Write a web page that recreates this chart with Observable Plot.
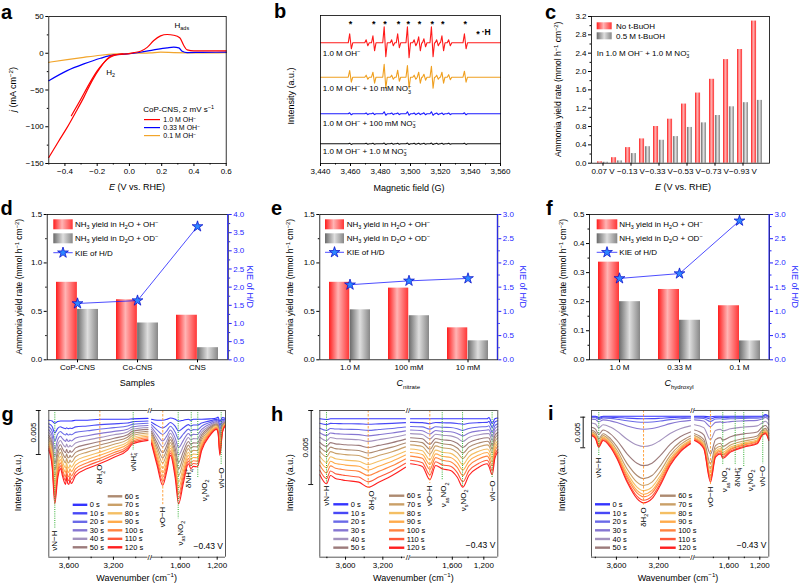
<!DOCTYPE html>
<html><head><meta charset="utf-8">
<script src="https://cdn.jsdelivr.net/npm/d3@7"></script>
<script src="https://cdn.jsdelivr.net/npm/@observablehq/plot@0.6"></script>
<style>
body{margin:0;background:#fff;}
#fig{position:relative;width:799px;height:584px;background:#fff;overflow:hidden;}
</style></head><body>
<div id="fig">
<svg width="0" height="0" style="position:absolute;left:0;top:0">
<defs>
<linearGradient id="gRed" x1="0" x2="1" y1="0" y2="0">
<stop offset="0" stop-color="#ff1c1c"/><stop offset="0.45" stop-color="#ffb4b4"/><stop offset="1" stop-color="#ff3636"/>
</linearGradient>
<linearGradient id="gGray" x1="0" x2="1" y1="0" y2="0">
<stop offset="0" stop-color="#6a6a6a"/><stop offset="0.5" stop-color="#dedede"/><stop offset="1" stop-color="#878787"/>
</linearGradient>
</defs></svg>
</div>
<script>
// ================= DATA =================
// (a) LSV curves
const aRedE = [-0.5,-0.44,-0.386,-0.33,-0.283,-0.231,-0.179,-0.138,-0.097,-0.05,-0.014,0.027,0.069,0.11,0.151,0.193,0.234,0.275,0.312,0.337,0.358,0.4,0.5,0.6];
const aRedJ = [-141.8,-120,-100.9,-79,-60,-37.3,-19,-7.7,-2.3,-1.3,-0.9,0.9,2.7,8,17.3,23.6,25.5,24.5,21,10.5,4.5,3.2,3.2,3.2];
const aRed2E = [-0.36,-0.3,-0.25,-0.2,-0.16,-0.12,-0.08,-0.04];
const aRed2J = [-85,-62,-42,-24,-13,-5.5,-2,-0.8];
const aBlueE = [-0.5,-0.386,-0.283,-0.179,-0.097,-0.014,0.069,0.151,0.234,0.275,0.306,0.327,0.358,0.45,0.6];
const aBlueJ = [-37.3,-23.6,-14.5,-6.8,-2.3,-0.9,1.4,4.5,7.3,8.2,7.3,2.7,0.9,1.2,1.4];
const aOrgE = [-0.5,-0.386,-0.283,-0.179,-0.076,0.027,0.13,0.193,0.275,0.44,0.6];
const aOrgJ = [-12.3,-8.6,-5.5,-2.7,-0.9,0,0.5,1.4,0.9,0.5,0.9];
const aXTicks = [-0.4,-0.2,0,0.2,0.4,0.6];
const aXMinor = [-0.5,-0.3,-0.1,0.1,0.3,0.5];
const aYTicks = [-150,-100,-50,0,50];
const aYMinor = [-125,-75,-25,25];
const aNotes = [{E:0.325, j:37.8, t:"H_{ads}"},{E:-0.117, j:-26.2, t:"H_{2}"}];
const aLegend = ["1.0 M OH^{−}","0.33 M OH^{−}","0.1 M OH^{−}"];

// (b) EPR spectra
const bPeaks = [3460,3475.5,3483,3492,3498.5,3506,3514.5,3521.5,3536.5];
const bRedUp = [9,7,16,9,16,6,16,7,9];
const bRedDown = [6,8,14,5,15,8,14,8,6];
const bOrgUp = [6.7,5,13,7,11.7,5,11,5,6];
const bOrgDown = [5,6,11,4,11,6,11,6,5];
const bBlueUp = [1,0.8,2,0.8,2,0.8,2,0.8,1];
const bBlueDown = [1,0.8,1.5,0.8,1.5,0.8,1.5,0.8,1];
const bBlackUp = [0.6,0.5,0.7,0.5,0.7,0.5,0.7,0.5,0.6];
const bMinor = [3471,3488,3503,3509.5,3518,3526];
const bRedMinor = [3,3,3,4,3,3];
const bOrgMinor = [2,2,2,3,2,2.5];
const bBlueMinor = [0.8,0.8,0.8,1,0.8,0.8];
const bBlackMinor = [0.5,0.5,0.5,0.5,0.5,0.5];
const bBase = [120.7, 86.3, 49.7, 19.7];
const bColors = ["#ff1a1a","#f0a020","#1a1aff","#111111"];
const bLabels = ["1.0 M OH^{−}","1.0 M OH^{−} + 10 mM NO@{3|−}","1.0 M OH^{−} + 100 mM NO@{3|−}","1.0 M OH^{−} + 1.0 M NO@{3|−}"];
const bLabelY = [110.3, 74.7, 40.3, 12];
const bTicks = [3440,3460,3480,3500,3520,3540,3560];
const bMinorTicks = [3450,3470,3490,3510,3530,3550];

// (c) ammonia yield vs potential
const cCats = ["0.07 V","−0.03 V","−0.13 V","−0.23 V","−0.33 V","−0.43 V","−0.53 V","−0.63 V","−0.73 V","−0.83 V","−0.93 V","−1.03 V"];
const cRed = [0.03,0.12,0.34,0.53,0.80,0.96,1.29,1.53,1.83,2.26,2.48,3.10];
const cGray = [0.02,0.05,0.21,0.36,0.50,0.58,0.78,0.88,1.04,1.23,1.32,1.37];
const cYTicks = [0,0.4,0.8,1.2,1.6,2.0,2.4,2.8,3.2];
const cYMinor = [0.2,0.6,1.0,1.4,1.8,2.2,2.6,3.0];

// (d) samples
const dCats = ["CoP-CNS","Co-CNS","CNS"];
const dRed = [0.80,0.62,0.46];
const dGray = [0.52,0.38,0.125];
const dKIE = [1.55,1.63,3.67];
// (e) nitrate concentration
const eCats = ["1.0 M","100 mM","10 mM"];
const eRed = [0.80,0.74,0.33];
const eGray = [0.516,0.455,0.196];
const eKIE = [1.55,1.63,1.68];
// (f) hydroxyl concentration
const fCats = ["1.0 M","0.33 M","0.1 M"];
const fRed = [0.336,0.242,0.186];
const fGray = [0.200,0.136,0.065];
const fKIE = [1.68,1.78,2.87];

// (g,h,i) in-situ IR: [wavenumber, 0 s value, 120 s value] (units of 0.001 a.u.)
const irTimes = ["0 s","10 s","20 s","30 s","40 s","50 s","60 s","70 s","80 s","90 s","100 s","110 s","120 s"];
const irColors = ["#3434ff","#4848f6","#6a6ae8","#8676d2","#a493bf","#9c7b7b","#ad8a70","#caa068","#f4bf64","#ffab4c","#ff8440","#ff5a3a","#ff1f1f"];
const gLeft = [[3780,-1.1,-4.5],[3750,-1.2,-6.4],[3726,-1.45,-10.6],[3700,-1.25,-7.7],[3675,-1.2,-6.6],[3660,-1.2,-7.3],[3645,-1.2,-8.0],[3630,-1.2,-8.4],[3620,-1.2,-7.6],[3610,-1.2,-8.3],[3600,-1.2,-8.4],[3590,-1.2,-7.9],[3578,-1.2,-8.3],[3540,-1.1,-7.4],[3434,-1.1,-6.6],[3314,-1.0,-6.0],[3194,-1.0,-5.3],[3074,-1.0,-4.5],[3029,-0.95,-3.8],[2890,-0.9,-3.4]];
const gRight = [[1911,-1.0,-3.75],[1850,-1.1,-6.25],[1790,-1.1,-8.5],[1743,-1.0,-6.8],[1707,-0.85,-5.1],[1654,-1.0,-7.7],[1618,-1.2,-10.6],[1565,-1.1,-8.2],[1511,-1.0,-6.05],[1486,-1.1,-6.6],[1458,-1.0,-6.35],[1415,-1.0,-6.4],[1368,-1.0,-4.55],[1279,-0.95,-2.85],[1207,-0.85,-2.15],[1190,-0.75,-2.6],[1171,-1.25,-5.1],[1143,-0.8,-2.5],[1110,-0.9,-1.7]];
const gFrac = [0,0.12,0.22,0.32,0.41,0.5,0.58,0.66,0.74,0.81,0.88,0.94,1];
const gBands = [
 {w:3726,lw:3726,end:-13.4,t:"νN−H",k:"g"},
 {w:3322,lw:3322,end:-5.9,t:"δH_{2}O",k:"o"},
 {w:3023,lw:3023,end:-4.55,t:"νNH@{4|+}",k:"g"},
 {w:1789,lw:1789,end:-10.7,t:"νO−H",k:"o"},
 {w:1622,lw:1597,end:-12.3,t:"ν_{as}NO_{2}",k:"g"},
 {w:1481,lw:1507,end:-6.4,t:"δNH@{4|+}",k:"g"},
 {w:1410,lw:1337,end:-7.6,t:"ν_{s}NO_{2}",k:"g"},
 {w:1157,lw:1157,end:-6.25,t:"νN−O",k:"g"}];
const hLeft = [[3876,-0.56,-4.34],[3804,-0.61,-4.95],[3761,-0.56,-4.39],[3708,-0.56,-4.59],[3654,-0.56,-4.66],[3600,-0.56,-4.73],[3458,-0.56,-4.84],[3357,-0.56,-5.18],[3244,-0.56,-4.84],[3100,-0.56,-4.39],[2957,-0.56,-3.83]];
const hRight = [[2130,-0.56,-3.6],[1980,-0.56,-3.78],[1884,-0.56,-4.68],[1811,-0.56,-3.72],[1727,-0.56,-3.94],[1622,-0.56,-4.05],[1537,-0.56,-4.51],[1466,-0.56,-5.18],[1390,-0.56,-4.39],[1263,-0.56,-3.83],[1157,-0.56,-3.6],[1135,-0.47,-3.78],[1094,-0.88,-4.34],[1060,-0.56,-3.24],[1023,-0.51,-2.82]];
const hFrac = [0,0.08,0.17,0.25,0.33,0.42,0.5,0.58,0.67,0.75,0.83,0.92,1];
const hBands = [
 {w:3804,lw:3804,end:-4.93,t:"νN−H",k:"g"},
 {w:3357,lw:3322,end:-5.27,t:"δH_{2}O",k:"o"},
 {w:1885,lw:1885,end:-4.93,t:"νO−H",k:"o"},
 {w:1728,lw:1707,end:-4.73,t:"ν_{as}NO_{2}",k:"g"},
 {w:1470,lw:1458,end:-5.2,t:"ν_{s}NO_{2}",k:"g"},
 {w:1095,lw:1095,end:-4.6,t:"νN−O",k:"g"}];
const iLeft = [[3836,-0.93,-4.08],[3798,-0.93,-4.62],[3767,-1.14,-6.0],[3726,-0.93,-4.9],[3657,-0.93,-6.0],[3594,-0.93,-7.9],[3499,-0.93,-11.7],[3405,-0.93,-14.4],[3343,-0.93,-15.1],[3263,-0.93,-14.4],[3185,-0.93,-12.25],[3091,-0.93,-9.0],[2996,-0.93,-6.8],[2898,-0.93,-5.44]];
const iRight = [[2043,-0.93,-4.9],[1923,-0.93,-6.26],[1837,-1.06,-11.7],[1772,-0.93,-7.63],[1708,-0.93,-7.08],[1678,-0.93,-7.8],[1578,-0.93,-6.8],[1407,-0.93,-6.0],[1234,-0.93,-5.44],[1170,-0.93,-4.08],[1127,-0.65,-3.8],[1084,-0.93,-4.9]];
const iFrac = [0,0.03,0.07,0.15,0.35,0.57,0.72,0.8,0.86,0.9,0.93,0.97,1];
const iBands = [
 {w:3767,lw:3767,end:-7.35,t:"νN−H",k:"g"},
 {w:3343,lw:3343,end:-15.5,t:"δH_{2}O",k:"o"},
 {w:1837,lw:1837,end:-12.1,t:"νO−H",k:"o"},
 {w:1678,lw:1652,end:-9.0,t:"ν_{as}NO_{2}",k:"g"},
 {w:1518,lw:1492,end:-9.0,t:"δNH@{4|+}",k:"g"},
 {w:1407,lw:1321,end:-9.3,t:"ν_{s}NO_{2}",k:"g"},
 {w:1162,lw:1162,end:-8.7,t:"νN−O",k:"g"}];
const irTicks = [3600,3200,1600,1200];
const irMinor = [3800,3400,3000,1800,1400,1000];

// ================= HELPERS =================
const NS = "http://www.w3.org/2000/svg";
const FONT = '"Liberation Sans", Arial, Helvetica, sans-serif';
const STYLE = `font-family: ${FONT}; font-size: 8px; overflow: visible; background: none; max-width: none;`;
const BLUE = "#1f1fff";
const STARFILL = "#2e86ff", STARSTROKE = "#0000c8";
const fig = document.getElementById("fig");
const comma = d3.format(",");
const f1 = d3.format(".1f");

function mount(svg, left, top) {
  svg.querySelectorAll("text").forEach(t => { if (t.textContent.includes("\u26a0")) t.remove(); });
  svg.style.position = "absolute";
  svg.style.left = left + "px";
  svg.style.top = top + "px";
  svg.style.background = "none";
  svg.style.overflow = "visible";
  fig.appendChild(svg);
  return svg;
}
function richify(root) {
  const re = /([_^~!])\{([^}]*)\}|@\{([^|}]*)\|([^}]*)\}|([^_^~!@]+)|([_^~!@])/g;
  root.querySelectorAll("text").forEach(t => {
    if (t.children.length) return;
    const s = t.textContent;
    if (!/[_^~!@]\{/.test(s)) return;
    const fs = parseFloat(getComputedStyle(t).fontSize) || 8;
    t.textContent = "";
    let cur = 0;
    const add = (txt, shift, o = {}) => {
      const ts = document.createElementNS(NS, "tspan");
      ts.textContent = txt;
      const dy = shift - cur;
      if (Math.abs(dy) > 1e-6) ts.setAttribute("dy", dy.toFixed(2));
      cur = shift;
      if (o.small) ts.setAttribute("font-size", (fs * 0.68).toFixed(2));
      if (o.italic) ts.setAttribute("font-style", "italic");
      if (o.bold) ts.setAttribute("font-weight", "bold");
      if (o.dx) ts.setAttribute("dx", o.dx.toFixed(2));
      t.appendChild(ts);
    };
    for (const m of s.matchAll(re)) {
      if (m[1] === "_") add(m[2], fs * 0.28, {small: true});
      else if (m[1] === "^") add(m[2], -fs * 0.38, {small: true});
      else if (m[1] === "~") add(m[2], 0, {italic: true});
      else if (m[1] === "!") add(m[2], 0, {bold: true});
      else if (m[3] !== undefined) {
        add(m[3], fs * 0.28, {small: true});
        add(m[4], -fs * 0.38, {small: true, dx: -fs * 0.68 * 0.56 * m[3].length});
      } else add(m[5] || m[6], 0);
    }
  });
}
function txt(g, x, y, s, o = {}) {
  return g.append("text").attr("x", x).attr("y", y).attr("dy", "0.35em")
    .attr("font-size", o.fs || 8).attr("text-anchor", o.anchor || "start")
    .attr("fill", o.fill || "black").attr("font-weight", o.fw || null)
    .attr("transform", o.rot ? `rotate(${o.rot},${x},${y})` : null).text(s);
}
const blank = () => "";
function bandInset(inner, n, pi, po) {
  const step = inner / (n - pi + 2 * po);
  return step * (1 - pi) / 2;
}

// ================= (a) =================
{
  const rows = [];
  [["o", aOrgE, aOrgJ, "#f2a52b"], ["b", aBlueE, aBlueJ, "#0000ff"], ["r2", aRed2E, aRed2J, "#ff0000"], ["r", aRedE, aRedJ, "#ff0000"]]
    .forEach(([k, E, J, c]) => E.forEach((e, i) => rows.push({k, E: e, j: J[i], c})));
  const svg = Plot.plot({
    width: 266, height: 192, marginLeft: 48.3, marginRight: 40.3, marginTop: 16, marginBottom: 29,
    style: STYLE,
    x: {domain: [-0.5, 0.6], label: null},
    y: {domain: [-150, 50], label: null},
    color: {type: "identity"},
    marks: [
      Plot.line(rows, {x: "E", y: "j", z: "k", stroke: "c", strokeWidth: 1.2, curve: "monotone-x"}),
      Plot.frame({stroke: "black", strokeWidth: 0.8}),
      Plot.axisX({ticks: aXTicks, tickFormat: f1, tickSize: 3, tickPadding: 2, label: null}),
      Plot.axisX({ticks: aXMinor, tickSize: 1.5, tickFormat: blank, label: null}),
      Plot.axisY({ticks: aYTicks, tickSize: 3, tickPadding: 2, label: null}),
      Plot.axisY({ticks: aYMinor, tickSize: 1.5, tickFormat: blank, label: null}),
      Plot.text(aNotes, {x: "E", y: "j", text: "t", fontSize: 8})
    ]
  });
  mount(svg, 0, 0);
  const g = d3.select(svg).append("g");
  txt(g, 13, 89.5, "~{j} (mA cm^{−2})", {fs: 9, anchor: "middle", rot: -90});
  txt(g, 137, 187, "~{E} (V vs. RHE)", {fs: 9, anchor: "middle"});
  txt(g, 143.3, 108.8, "CoP-CNS, 2 mV s^{−1}");
  ["#ff0000", "#0000ff", "#f2a52b"].forEach((c, i) => {
    const y = 119.6 + i * 8;
    g.append("line").attr("x1", 144).attr("x2", 160).attr("y1", y).attr("y2", y).attr("stroke", c).attr("stroke-width", 1.2);
    txt(g, 163.3, y + 0.3, aLegend[i], {fs: 7});
  });
  richify(svg);
}

// ================= (b) =================
{
  const rows = [];
  const series = [[bRedUp, bRedDown, bRedMinor], [bOrgUp, bOrgDown, bOrgMinor], [bBlueUp, bBlueDown, bBlueMinor], [bBlackUp, bBlackUp, bBlackMinor]];
  series.forEach(([ups, downs, mins], si) => {
    const base = bBase[si];
    const pk = bPeaks.map((G, i) => ({G, u: ups[i], d: downs[i]}))
      .concat(bMinor.map((G, i) => ({G, u: mins[i], d: mins[i]})))
      .sort((a, b) => a.G - b.G);
    rows.push({k: si, G: 3440, v: base, c: bColors[si]});
    pk.forEach(p => {
      rows.push({k: si, G: p.G - 1.5, v: base, c: bColors[si]});
      rows.push({k: si, G: p.G - 0.55, v: base + p.u, c: bColors[si]});
      rows.push({k: si, G: p.G + 0.55, v: base - p.d, c: bColors[si]});
      rows.push({k: si, G: p.G + 1.5, v: base, c: bColors[si]});
    });
    rows.push({k: si, G: 3560, v: base, c: bColors[si]});
  });
  const svg = Plot.plot({
    width: 266, height: 192, marginLeft: 54, marginRight: 32, marginTop: 15, marginBottom: 29,
    style: STYLE,
    x: {domain: [3440, 3560], label: null},
    y: {domain: [0, 148], axis: null},
    color: {type: "identity"},
    marks: [
      Plot.line(rows, {x: "G", y: "v", z: "k", stroke: "c", strokeWidth: 1.1}),
      Plot.frame({stroke: "black", strokeWidth: 0.8}),
      Plot.axisX({ticks: bTicks, tickFormat: comma, tickSize: 3, tickPadding: 2, label: null}),
      Plot.axisX({ticks: bMinorTicks, tickSize: 1.5, tickFormat: blank, label: null}),
      Plot.text(bPeaks, {x: d => d, y: 141.3, text: () => "*", fontSize: 9, fontWeight: "bold", dy: 2}),
      Plot.text(bLabels, {x: 3441.5, y: (d, i) => bLabelY[i], text: d => d, textAnchor: "start", fontSize: 8}),
      Plot.text(["*"], {x: 3545, y: 131, fontSize: 9, fontWeight: "bold", dy: 2}),
      Plot.text(["·H"], {x: 3547.5, y: 131, textAnchor: "start", fontSize: 8.5, fontWeight: "bold"})
    ]
  });
  mount(svg, 266, 0);
  const g = d3.select(svg).append("g");
  txt(g, 25, 96, "Intensity (a.u.)", {fs: 9, anchor: "middle", rot: -90});
  txt(g, 143, 188, "Magnetic field (G)", {fs: 9, anchor: "middle"});
  richify(svg);
}

// ================= bar panels (c,d,e,f) =================
function barPanel(o) {
  const hasK = !!o.kie;
  const rows = o.cats.map((cat, i) => ({cat, red: o.red[i], gray: o.gray[i], kie: hasK ? o.kie[i] : 0}));
  const k = hasK ? o.yMax / o.kMax : 1;
  const inner = o.w - o.ml - o.mr;
  const inset = bandInset(inner, o.cats.length, o.pi, o.po);
  const marks = [
    Plot.barY(rows, {x: "cat", y: "red", fill: "url(#gRed)", insetRight: inset}),
    Plot.barY(rows, {x: "cat", y: "gray", fill: "url(#gGray)", insetLeft: inset}),
    Plot.frame({stroke: "black", strokeWidth: 0.8}),
    Plot.axisX({ticks: o.xTicks || o.cats, tickSize: 3, tickPadding: 2, label: null}),
    Plot.axisY({ticks: o.yTicks, tickFormat: f1, tickSize: 3, tickPadding: 2, label: null}),
    Plot.axisY({ticks: o.yMinor, tickSize: 1.5, tickFormat: blank, label: null})
  ];
  if (hasK) marks.push(
    Plot.line(rows, {x: "cat", y: d => d.kie * k, stroke: BLUE, strokeWidth: 0.8}),
    Plot.dot(rows, {x: "cat", y: d => d.kie * k, symbol: "star", r: 3.4, fill: STARFILL, stroke: STARSTROKE, strokeWidth: 0.7}),
    Plot.axisY({anchor: "right", ticks: o.kTicks.map(v => v * k), tickFormat: d => f1(d / k), tickSize: 3, tickPadding: 2, stroke: BLUE, fill: BLUE, label: null}),
    Plot.axisY({anchor: "right", ticks: o.kMinor.map(v => v * k), tickSize: 1.5, tickFormat: blank, stroke: BLUE, label: null})
  );
  const svg = Plot.plot({
    width: o.w, height: o.h, marginLeft: o.ml, marginRight: o.mr, marginTop: o.mt, marginBottom: o.mb,
    style: STYLE,
    x: {type: "band", domain: o.cats, paddingInner: o.pi, paddingOuter: o.po, label: null},
    y: {domain: [0, o.yMax], label: null},
    marks
  });
  mount(svg, o.left, o.top);
  const g = d3.select(svg).append("g");
  const fb = o.h - o.mb, fc = (o.mt + fb) / 2, fr = o.w - o.mr;
  txt(g, o.ml + o.ytDx, fc, "Ammonia yield rate (mmol h^{−1} cm^{−2})", {fs: 8.5, anchor: "middle", rot: -90});
  txt(g, (o.ml + fr) / 2 + (o.xtDx || 0), fb + 24, o.xTitle, {fs: 9, anchor: "middle"});
  if (hasK) {
    g.append("line").attr("x1", fr).attr("x2", fr).attr("y1", o.mt).attr("y2", fb).attr("stroke", BLUE).attr("stroke-width", 1);
    txt(g, fr + o.rtDx, fc, "KIE of H/D", {fs: 9, anchor: "middle", rot: 90, fill: BLUE});
    const L = o.leg;
    g.append("rect").attr("x", L.x0).attr("y", 27.3).attr("width", L.x1 - L.x0).attr("height", 10).attr("fill", "url(#gRed)");
    txt(g, L.tx, 32.3, "NH_{3} yield in H_{2}O + OH^{−}");
    g.append("rect").attr("x", L.x0).attr("y", 41.3).attr("width", L.x1 - L.x0).attr("height", 10).attr("fill", "url(#gGray)");
    txt(g, L.tx, 46.3, "NH_{3} yield in D_{2}O + OD^{−}");
    g.append("line").attr("x1", L.x0).attr("x2", L.x1).attr("y1", L.y3).attr("y2", L.y3).attr("stroke", BLUE).attr("stroke-width", 0.8);
    g.append("path").attr("d", d3.symbol(d3.symbolStar, Math.PI * 3.4 * 3.4)())
      .attr("transform", `translate(${(L.x0 + L.x1) / 2},${L.y3})`).attr("fill", STARFILL).attr("stroke", STARSTROKE).attr("stroke-width", 0.7);
    txt(g, L.tx, L.y3, "KIE of H/D");
  } else {
    g.append("rect").attr("x", 64.7).attr("y", 22.3).attr("width", 15).attr("height", 7).attr("fill", "url(#gRed)");
    txt(g, 84, 25.8, "No t-BuOH");
    g.append("rect").attr("x", 64.7).attr("y", 32.3).attr("width", 15).attr("height", 7).attr("fill", "url(#gGray)");
    txt(g, 84, 35.8, "0.5 M t-BuOH");
    txt(g, 64.7, 53.3, "In 1.0 M OH^{−} + 1.0 M NO@{3|−}");
  }
  richify(svg);
}
barPanel({left: 532, top: 0, w: 267, h: 192, ml: 59, mr: 30, mt: 16, mb: 29.3, pi: 0.2, po: 0.1,
  cats: cCats, red: cRed, gray: cGray, xTicks: cCats.filter((d, i) => i % 2 === 0),
  yMax: 3.2, yTicks: cYTicks, yMinor: cYMinor, ytDx: -32.7, xTitle: "~{E} (V vs. RHE)", xtDx: 3});
barPanel({left: 0, top: 192, w: 266, h: 193, ml: 46.7, mr: 38.3, mt: 22, mb: 25.7, pi: 0.3, po: 0.15,
  cats: dCats, red: dRed, gray: dGray, kie: dKIE,
  yMax: 1.5, yTicks: [0, 0.5, 1.0, 1.5], yMinor: [0.25, 0.75, 1.25],
  kMax: 4, kTicks: [0, 0.5, 1, 1.5, 2, 2.5, 3, 3.5, 4], kMinor: [0.25, 0.75, 1.25, 1.75, 2.25, 2.75, 3.25, 3.75],
  ytDx: -27.4, rtDx: 22.3, xTitle: "Samples", leg: {x0: 53.3, x1: 72.7, tx: 75, y3: 60.7}});
barPanel({left: 266, top: 192, w: 266, h: 193, ml: 53.3, mr: 34.7, mt: 22, mb: 25.7, pi: 0.3, po: 0.15,
  cats: eCats, red: eRed, gray: eGray, kie: eKIE,
  yMax: 1.5, yTicks: [0, 0.5, 1.0, 1.5], yMinor: [0.25, 0.75, 1.25],
  kMax: 3, kTicks: [0, 0.5, 1, 1.5, 2, 2.5, 3], kMinor: [0.25, 0.75, 1.25, 1.75, 2.25, 2.75],
  ytDx: -29.3, rtDx: 26, xTitle: "~{C}_{nitrate}", leg: {x0: 59, x1: 78, tx: 80.7, y3: 60.3}});
barPanel({left: 532, top: 192, w: 267, h: 193, ml: 57, mr: 30, mt: 22, mb: 25.7, pi: 0.3, po: 0.15,
  cats: fCats, red: fRed, gray: fGray, kie: fKIE,
  yMax: 0.5, yTicks: [0, 0.1, 0.2, 0.3, 0.4, 0.5], yMinor: [0.05, 0.15, 0.25, 0.35, 0.45],
  kMax: 3, kTicks: [0, 0.5, 1, 1.5, 2, 2.5, 3], kMinor: [0.25, 0.75, 1.25, 1.75, 2.25, 2.75],
  ytDx: -25.7, rtDx: 26, xTitle: "~{C}_{hydroxyl}", leg: {x0: 64.7, x1: 85.3, tx: 87.3, y3: 60.3}});

// ================= (g,h,i) =================
function irPanel(o) {
  const rowsFor = (pts, s) => {
    const r = [];
    o.frac.forEach((f, i) => pts.forEach(p => r.push({w: p[0], v: p[1] + f * (p[2] - p[1]), k: i + s, c: irColors[i]})));
    return r;
  };
  const within = (dom) => (w) => w <= dom[0] && w >= dom[1];
  const FR = "#444";
  const common = {height: 199, marginTop: 25, marginBottom: 27.3, style: STYLE,
    y: {domain: [o.yMin, 0], axis: null}, color: {type: "identity"}};
  const halfMarks = (dom, pts, s) => {
    const inD = within(dom);
    const bands = o.bands.filter(d => inD(d.w));
    return [
      Plot.line(rowsFor(pts, s), {x: "w", y: "v", z: "k", stroke: "c", strokeWidth: 1.1, curve: "monotone-x"}),
      Plot.ruleX(bands.filter(d => d.k === "o"), {x: "w", y1: 0, y2: "end", stroke: "#ff9a2e", strokeWidth: 0.9, strokeDasharray: "2.5,1.5"}),
      Plot.ruleX(bands.filter(d => d.k === "g"), {x: "w", y1: 0, y2: "end", stroke: "#2fae2f", strokeWidth: 1, strokeDasharray: "1,1.2"}),
      Plot.text(bands, {x: "lw", y: "end", text: "t", rotate: -90, textAnchor: "end", dy: 2, fontSize: 8}),
      Plot.ruleY([0, o.yMin], {stroke: FR, strokeWidth: 0.9}),
      Plot.axisX({ticks: irTicks.filter(inD), tickFormat: comma, tickSize: 3, tickPadding: 2, label: null}),
      Plot.axisX({ticks: irMinor.filter(inD), tickSize: 1.5, tickFormat: blank, label: null})
    ];
  };
  const gap = o.bR - o.bL;
  const left = Plot.plot({...common, width: o.bL, marginLeft: o.ml, marginRight: 0,
    x: {domain: o.domL, label: null},
    marks: [
      ...halfMarks(o.domL, o.leftPts, "L"),
      Plot.ruleX([o.domL[0]], {stroke: FR, strokeWidth: 0.9}),
      Plot.text([0, o.yMin], {x: () => o.domL[1], y: d => d, dx: gap / 2, text: () => "//", fontSize: 8}),
      Plot.ruleX([o.domL[0]], {y1: o.barTop, y2: o.barTop - 5, dx: o.barDx, strokeWidth: 0.9}),
      Plot.ruleY([o.barTop, o.barTop - 5], {x1: o.domL[0], x2: o.domL[0], dx: o.barDx, insetLeft: -2.5, insetRight: -2.5, strokeWidth: 0.9}),
      Plot.text(["0.005"], {x: o.domL[0], y: o.barTop - 2.5, dx: o.barDx - 5.5, rotate: -90, fontSize: 8})
    ]});
  mount(left, o.left, 385);
  const right = Plot.plot({...common, width: o.fr - o.bR + 40, marginLeft: 0, marginRight: 40,
    x: {domain: o.domR, label: null},
    marks: [
      ...halfMarks(o.domR, o.rightPts, "R"),
      Plot.ruleX([o.domR[1]], {stroke: FR, strokeWidth: 0.9}),
      Plot.text(["−0.43 V"], {frameAnchor: "bottom-right", dx: -2.5, dy: -8.7, textAnchor: "end", fontSize: 8.5})
    ]});
  mount(right, o.left + o.bR, 385);
  const g = d3.select(left).append("g");
  txt(g, o.ml + o.ytDx, 97.7, "Intensity (a.u.)", {fs: 9, anchor: "middle", rot: -90});
  txt(g, o.xtX, 192.7, "Wavenumber (cm^{−1})", {fs: 9, anchor: "middle"});
  const L = o.leg;
  irTimes.forEach((t, i) => {
    const rc = i >= 6;
    const row = rc ? i - 6 : i;
    const y = rc ? L.ry + row * L.dy : L.ly + row * L.dy;
    const x0 = rc ? L.rx0 : L.lx0, x1 = rc ? L.rx1 : L.lx1;
    g.append("line").attr("x1", x0).attr("x2", x1).attr("y1", y).attr("y2", y).attr("stroke", irColors[i]).attr("stroke-width", 2.4);
    txt(g, x1 + 2.5, y, t, {fs: 7.5});
  });
  richify(left);
  richify(right);
}
irPanel({left: 0, ml: 48.3, bL: 147.5, bR: 151, fr: 225, domL: [3780, 2890], domR: [1911, 1110],
  yMin: -16.67, leftPts: gLeft, rightPts: gRight, frac: gFrac, bands: gBands,
  barTop: 0, barDx: -10, ytDx: -30, xtX: 136.7,
  leg: {lx0: 72.7, lx1: 87.3, ly: 119.8, rx0: 107.7, rx1: 122.3, ry: 111.3, dy: 8.5}});
irPanel({left: 266, ml: 53.3, bL: 139, bR: 144, fr: 231.3, domL: [3876, 2957], domR: [2130, 1023],
  yMin: -9.91, leftPts: hLeft, rightPts: hRight, frac: hFrac, bands: hBands,
  barTop: 0, barDx: -8.6, ytDx: -29.3, xtX: 147.3,
  leg: {lx0: 67.3, lx1: 82.3, ly: 119.3, rx0: 123, rx1: 138.3, ry: 110.7, dy: 8.67}});
irPanel({left: 532, ml: 59, bL: 158, bR: 162, fr: 236.3, domL: [3836, 2898], domR: [2043, 1084],
  yMin: -23.97, leftPts: iLeft, rightPts: iRight, frac: iFrac, bands: iBands,
  barTop: -1.09, barDx: -8.3, ytDx: -28.7, xtX: 146,
  leg: {lx0: 63, lx1: 78, ly: 119.3, rx0: 128, rx1: 143.7, ry: 110.7, dy: 8.67}});

// ================= panel letters =================
{
  const over = d3.select(fig).append("svg").attr("width", 799).attr("height", 584)
    .style("position", "absolute").style("left", "0px").style("top", "0px").style("pointer-events", "none");
  [["a", 1, 19], ["b", 274, 17.5], ["c", 545, 19], ["d", 0.5, 215], ["e", 271, 215], ["f", 546, 215], ["g", 1.5, 421], ["h", 271, 421], ["i", 548, 420]]
    .forEach(([ch, x, y]) => over.append("text").attr("x", x).attr("y", y).attr("font-family", FONT)
      .attr("font-size", 20).attr("font-weight", "bold").text(ch));
}
</script>
</body></html>
